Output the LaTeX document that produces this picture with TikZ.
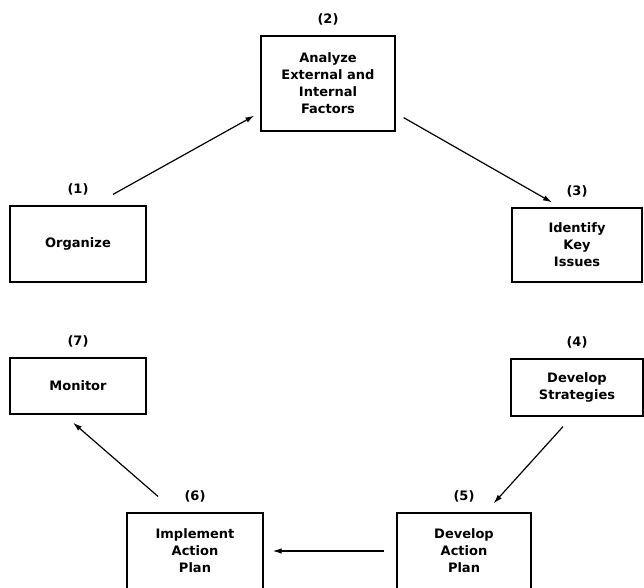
\documentclass[tikz,border=0pt]{standalone}
\usepackage{fontspec}
\setmainfont{DejaVu Sans}
\usetikzlibrary{arrows.meta}
\tikzset{
  box/.style={shape=rectangle, draw=black, line width=1.2pt, align=center, inner sep=0pt, font=\bfseries\fontsize{13}{17}\selectfont},
  every label/.style={font=\bfseries\fontsize{13}{14}\selectfont, inner sep=0pt},
  label distance=10pt
}
\begin{document}
\begin{tikzpicture}[x=1pt,y=1pt,>={Latex[length=9pt,width=5.5pt]},line width=1.2pt]
\useasboundingbox (0,0) rectangle (644,-587);
\node[box,minimum width=136pt,minimum height=76pt,label=above:(1)] (org) at (78,-244) {Organize};
\node[box,minimum width=134pt,minimum height=95pt,label=above:(2)] (ana) at (328,-83.5) {Analyze\\External and\\Internal\\Factors};
\node[box,minimum width=130pt,minimum height=74pt,label=above:(3)] (key) at (577,-245) {Identify\\Key\\Issues};
\node[box,minimum width=132pt,minimum height=57pt,label=above:(4)] (str) at (577,-387.5) {Develop\\Strategies};
\node[box,minimum width=134pt,minimum height=76pt,label=above:(5)] (dev) at (464,-551) {Develop\\Action\\Plan};
\node[box,minimum width=136pt,minimum height=76pt,label=above:(6)] (imp) at (195,-551) {Implement\\Action\\Plan};
\node[box,minimum width=136pt,minimum height=56pt,label=above:(7)] (mon) at (78,-386) {Monitor};
\path [->] ([shift={(35,11)}]org.north) edge ([shift={(-6,16)}]ana.south west);
\path [->] ([shift={(8,14)}]ana.south east) edge ([shift={(-25,5)}]key.north);
\path [->] ([shift={(-14,-10)}]str.south) edge ([shift={(-38,9)}]dev.north east);
\path [->,shorten <=12pt,shorten >=9pt] (dev) edge (imp);
\path [->] ([shift={(-37,16)}]imp.north) edge ([shift={(-5,-8)}]mon.south);
\end{tikzpicture}
\end{document}
